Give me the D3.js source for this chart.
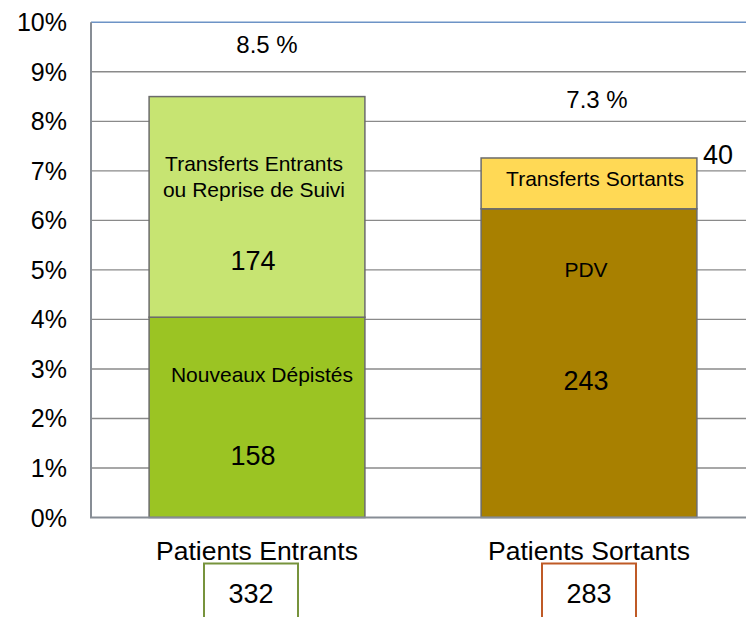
<!DOCTYPE html>
<html>
<head>
<meta charset="utf-8">
<script src="https://cdn.jsdelivr.net/npm/d3@7"></script>
<style>
  body { margin: 0; background: #fff; }
  svg { display: block; font-family: "Liberation Sans", Arial, sans-serif; }
</style>
</head>
<body>
<svg id="chart" width="746" height="617"></svg>
<script>
// categories and totals (share of file active, in %)
var categories = ["Patients Entrants", "Patients Sortants"];
var totalPct = [8.5, 7.26];
var totalPctLabels = ["8.5 %", "7.3 %"];
var totalCounts = [332, 283];

// stacked segments, bottom to top, counts of patients
var segNames = [
    ["Nouveaux Dépistés", "Transferts Entrants\nou Reprise de Suivi"],
    ["PDV", "Transferts Sortants"]
];
var segCounts = [[158, 174], [243, 40]];
var segColors = [["#9bc423", "#c7e472"], ["#a88000", "#ffd955"]];

var yTicks = [0, 1, 2, 3, 4, 5, 6, 7, 8, 9, 10];

// label placement (in % units on the y scale)
var nameLabelY = [[2.74, 7.0], [4.86, 6.69]];
var countLabelY = [[1.07, 5.0], [2.58, null]];
var nameShiftX = [[5, -3], [-3, 6]];
var countShiftX = [[-4, -4], [-3, 0]];
var totalLabelY = [9.37, 8.27];
var totalShiftX = [10, 8];
var boxShift = [-6, 0];

var svg = d3.select("#chart");
var plotLeft = 91, plotTop = 22.3, plotBottom = 517.5;

var x = d3.scaleBand()
    .domain(categories)
    .range([plotLeft, plotLeft + 664])
    .paddingInner(0.35)
    .paddingOuter(0.175);

var y = d3.scaleLinear()
    .domain([0, 10])
    .range([plotBottom, plotTop]);

// gridlines
svg.append("g")
    .selectAll("line")
    .data(yTicks.slice(1))
    .enter()
    .append("line")
    .attr("x1", plotLeft)
    .attr("x2", 746)
    .attr("y1", d => y(d))
    .attr("y2", d => y(d))
    .attr("stroke", d => d == 10 ? "#6d93c6" : "#8a8a8a")
    .attr("stroke-width", 1.4);

// y tick labels
svg.append("g")
    .selectAll("text")
    .data(yTicks)
    .enter()
    .append("text")
    .attr("x", 67)
    .attr("y", d => y(d))
    .attr("dy", "0.36em")
    .attr("text-anchor", "end")
    .attr("font-size", 25)
    .attr("fill", "#000")
    .text(d => d + "%");

// stacked bars
categories.forEach(function(cat, i) {
    var total = d3.sum(segCounts[i]);
    var acc = 0;
    var g = svg.append("g");
    segCounts[i].forEach(function(c, j) {
        var v0 = totalPct[i] * acc / total;
        acc += c;
        var v1 = totalPct[i] * acc / total;
        g.append("rect")
            .attr("x", x(cat))
            .attr("y", y(v1))
            .attr("width", x.bandwidth())
            .attr("height", y(v0) - y(v1))
            .attr("fill", segColors[i][j])
            .attr("stroke", "#6b6b6b")
            .attr("stroke-width", 1.5);
    });

    var cx = x(cat) + x.bandwidth() / 2;
    segCounts[i].forEach(function(c, j) {
        var lines = segNames[i][j].split("\n");
        lines.forEach(function(l, k) {
            g.append("text")
                .attr("x", cx + nameShiftX[i][j])
                .attr("y", y(nameLabelY[i][j]) + k * 26)
                .attr("text-anchor", "middle")
                .attr("font-size", 21)
                .text(l);
        });
        if (countLabelY[i][j] != null) {
            g.append("text")
                .attr("x", cx + countShiftX[i][j])
                .attr("y", y(countLabelY[i][j]))
                .attr("text-anchor", "middle")
                .attr("font-size", 27)
                .text(c);
        }
    });

    // total % label
    svg.append("text")
        .attr("x", cx + totalShiftX[i])
        .attr("y", y(totalLabelY[i]))
        .attr("text-anchor", "middle")
        .attr("font-size", 24)
        .text(totalPctLabels[i]);

    // category label
    svg.append("text")
        .attr("x", cx)
        .attr("y", 560)
        .attr("text-anchor", "middle")
        .attr("font-size", 26.5)
        .text(cat);

    // boxed total count
    svg.append("rect")
        .attr("x", cx + boxShift[i] - 47)
        .attr("y", 563.5)
        .attr("width", 94)
        .attr("height", 80)
        .attr("fill", "none")
        .attr("stroke", i == 0 ? "#77933c" : "#bf5a26")
        .attr("stroke-width", 2);
    svg.append("text")
        .attr("x", cx + boxShift[i])
        .attr("y", 603)
        .attr("text-anchor", "middle")
        .attr("font-size", 27)
        .text(totalCounts[i]);
});

// small count above the thin top segment of bar 2
svg.append("text")
    .attr("x", x(categories[1]) + x.bandwidth() + 6)
    .attr("y", y(7.14))
    .attr("font-size", 27)
    .text(segCounts[1][1]);

// axes lines
svg.append("line")
    .attr("x1", plotLeft).attr("x2", plotLeft)
    .attr("y1", plotTop).attr("y2", plotBottom)
    .attr("stroke", "#878d95").attr("stroke-width", 2);
svg.append("line")
    .attr("x1", plotLeft - 1).attr("x2", 746)
    .attr("y1", plotBottom).attr("y2", plotBottom)
    .attr("stroke", "#878d95").attr("stroke-width", 2);
</script>
</body>
</html>
